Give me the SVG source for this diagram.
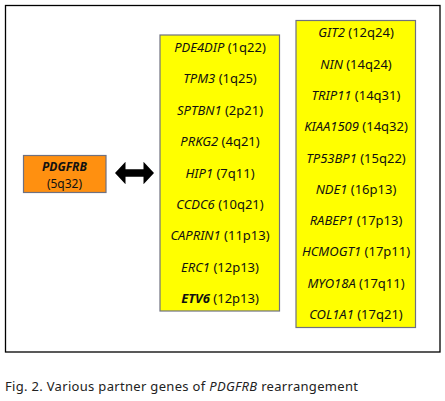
<svg xmlns="http://www.w3.org/2000/svg" width="445" height="401" viewBox="0 0 445 401">
<style>
text{font-family:"Noto Sans","Liberation Sans",sans-serif;font-size:13px;fill:#111;text-anchor:middle;dominant-baseline:central}
.g{font-style:italic}
.b{font-weight:bold}
.s{font-size:12px}
.box{stroke:#6f7180;stroke-width:1.2}
</style>
<rect x="0" y="0" width="445" height="401" fill="#fff"/>
<rect x="5.5" y="5.5" width="434.5" height="346.5" fill="#fff" stroke="#000" stroke-width="1.3"/>
<g id="pdgfrb">
<rect class="box" x="23.5" y="155.5" width="82.5" height="37" fill="#FF9010"/>
<text class="s" x="64.5" y="166"><tspan class="g b">PDGFRB</tspan></text>
<text class="s" x="64.5" y="183.5">(5q32)</text>
</g>
<g id="connectors">
<path d="M115,173 L125.5,161.7 L125.5,169.3 L143.5,169.3 L143.5,161.7 L154,173 L143.5,184.3 L143.5,176.7 L125.5,176.7 L125.5,184.3 Z" fill="#000"/>
</g>
<g id="partners1">
<rect class="box" x="160" y="35" width="119.5" height="276" fill="#FFFF00"/>
<text x="220" y="46.7"><tspan class="g">PDE4DIP</tspan> (1q22)</text>
<text x="220" y="78.2"><tspan class="g">TPM3</tspan> (1q25)</text>
<text x="220" y="109.6"><tspan class="g">SPTBN1</tspan> (2p21)</text>
<text x="220" y="141.1"><tspan class="g">PRKG2</tspan> (4q21)</text>
<text x="220" y="172.5"><tspan class="g">HIP1</tspan> (7q11)</text>
<text x="220" y="204"><tspan class="g">CCDC6</tspan> (10q21)</text>
<text x="220" y="235.4"><tspan class="g">CAPRIN1</tspan> (11p13)</text>
<text x="220" y="266.9"><tspan class="g">ERC1</tspan> (12p13)</text>
<text x="220" y="298.3"><tspan class="g b">ETV6</tspan> (12p13)</text>
</g>
<g id="partners2">
<rect class="box" x="296" y="20.5" width="119.5" height="307" fill="#FFFF00"/>
<text x="356" y="32.3"><tspan class="g">GIT2</tspan> (12q24)</text>
<text x="356" y="63.6"><tspan class="g">NIN</tspan> (14q24)</text>
<text x="356" y="94.9"><tspan class="g">TRIP11</tspan> (14q31)</text>
<text x="356" y="126.2"><tspan class="g">KIAA1509</tspan> (14q32)</text>
<text x="356" y="157.5"><tspan class="g">TP53BP1</tspan> (15q22)</text>
<text x="356" y="188.8"><tspan class="g">NDE1</tspan> (16p13)</text>
<text x="356" y="220.1"><tspan class="g">RABEP1</tspan> (17p13)</text>
<text x="356" y="251.4"><tspan class="g">HCMOGT1</tspan> (17p11)</text>
<text x="356" y="282.7"><tspan class="g">MYO18A</tspan> (17q11)</text>
<text x="356" y="314"><tspan class="g">COL1A1</tspan> (17q21)</text>
</g>
<text x="5" y="385.5" textLength="353" lengthAdjust="spacing" style="text-anchor:start;font-size:13px;fill:#222">Fig. 2. Various partner genes of <tspan class="g">PDGFRB</tspan> rearrangement</text>
</svg>
